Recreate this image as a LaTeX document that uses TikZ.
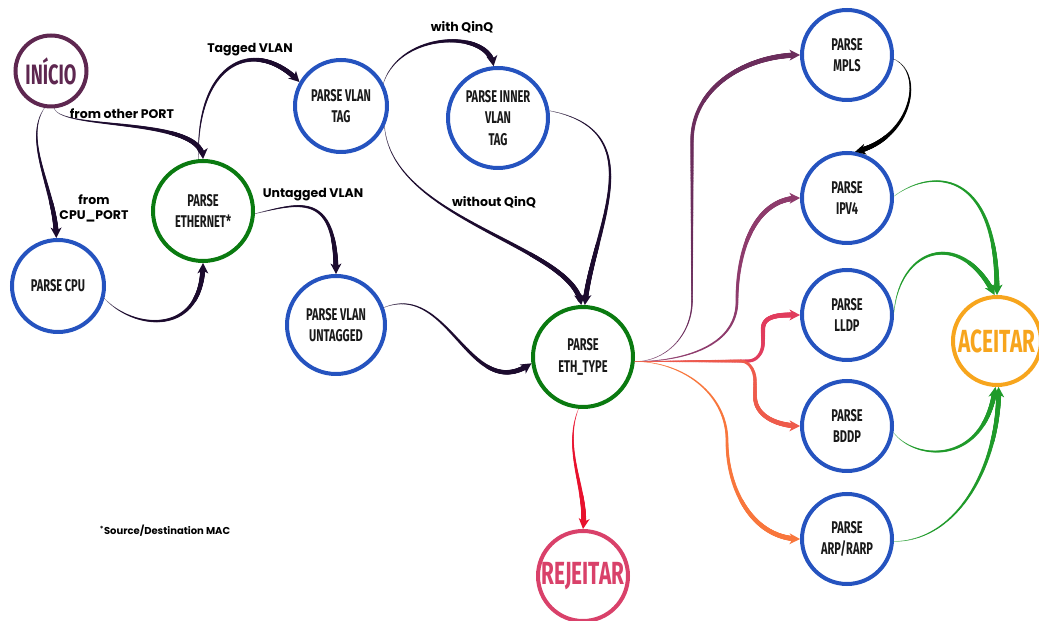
\documentclass[tikz,border=0pt]{standalone}
\usepackage{fontspec}
\usepackage{xcolor}
\usetikzlibrary{arrows.meta, decorations.markings}
\newfontfamily\statefont[FakeStretch=0.65]{Fira Sans}
\newfontfamily\labelfont{Poppins}
\definecolor{stateblue}{HTML}{2553BF}
\definecolor{stategreen}{HTML}{0A7A10}
\definecolor{startpurple}{HTML}{5E2750}
\definecolor{rejectpink}{HTML}{D9416A}
\definecolor{acceptorange}{HTML}{F7A51D}
\definecolor{flowdark}{HTML}{1C0B2E}
\definecolor{flowplum}{HTML}{6B2D5C}
\definecolor{flowmauve}{HTML}{8E3B6C}
\definecolor{flowrose}{HTML}{E13C5D}
\definecolor{flowcoral}{HTML}{EE5B4B}
\definecolor{floworange}{HTML}{F8763C}
\definecolor{flowred}{HTML}{E8112D}
\definecolor{flowgreen}{HTML}{1F9A2A}

\begin{document}
\begin{tikzpicture}[x=1pt, y=1pt]
\tikzstyle{state} = [circle, draw=stateblue, line width=4pt, minimum size=92pt, inner sep=0pt, align=center, text=black!90, font=\statefont\bfseries\fontsize{17}{21.5}\selectfont]
\tikzstyle{final} = [state, font=\statefont\bfseries\fontsize{32}{36}\selectfont]
\tikzstyle{lbl} = [align=center, inner sep=1pt, font=\labelfont\bfseries\fontsize{12.5}{15}\selectfont]
\tikzset{flow/.style={
  postaction={decorate, decoration={markings,
    mark=between positions 0 and -8pt step 0.6pt with {\fill[#1] (0,0) circle [radius={0.25+2.4*\pgfkeysvalueof{/pgf/decoration/mark info/distance from start}/\pgfdecoratedpathlength}];}}},
  postaction={decorate, decoration={markings,
    mark=at position -1.5pt with {\fill[#1] (1.5,0) -- (-9,5.5) -- (-6,0) -- (-9,-5.5) -- cycle;}}}}}
\useasboundingbox (0,0) rectangle (1039,621);

\node (inicio) [final, draw=startpurple, text=startpurple, minimum size=71pt, font=\statefont\bfseries\fontsize{28}{32}\selectfont] at (51,550) {INÍCIO};
\node (cpu) [state] at (58,335) {PARSE CPU};
\node (ether) [state, draw=stategreen, minimum size=100pt] at (203,410) {PARSE\\ETHERNET*};
\node (vtag) [state] at (341,515) {PARSE VLAN\\TAG};
\node (vuntag) [state, minimum size=98pt] at (336,296) {PARSE VLAN\\UNTAGGED};
\node (inner) [state, minimum size=100pt] at (498,503) {PARSE INNER\\VLAN\\TAG};
\node (ethtype) [state, draw=stategreen, minimum size=100pt] at (583,264) {PARSE\\ETH\_TYPE};
\node (rej) [final, draw=rejectpink, text=rejectpink, minimum size=90pt] at (583,45) {REJEITAR};
\node (mpls) [state, minimum size=90pt] at (847,566) {PARSE\\MPLS};
\node (ipv4) [state, minimum size=90pt] at (847,423) {PARSE\\IPV4};
\node (lldp) [state, minimum size=90pt] at (847,306) {PARSE\\LLDP};
\node (bddp) [state, minimum size=90pt] at (847,195) {PARSE\\BDDP};
\node (arp) [state, minimum size=90pt] at (847,82) {PARSE\\ARP/RARP};
\node (aceitar) [final, draw=acceptorange, text=acceptorange, minimum size=88pt] at (997,280) {ACEITAR};

\node (lbltagged) [lbl] at (250,571) {Tagged VLAN};
\node (lblother) [lbl] at (122,507) {from other PORT};
\node (lblcpu) [lbl] at (94,413) {from\\CPU\_PORT};
\node (lbluntagged) [lbl] at (313,426) {Untagged VLAN};
\node (lblwith) [lbl] at (462,594) {with QinQ};
\node (lblwithout) [lbl] at (494,419) {without QinQ};
\node (lblmac) [lbl, font=\labelfont\bfseries\fontsize{10}{12}\selectfont] at (165,90) {\textsuperscript{*}Source/Destination MAC};

\path[flow=flowdark] (inicio.-100) .. controls (22,480) and (56,430) .. (cpu.92);
\path[flow=flowdark] (inicio.-85) .. controls (62,490) and (203,505) .. (ether.90);
\path[flow=flowdark] (cpu.-15) .. controls (135,290) and (203,285) .. (ether.-90);
\path[flow=flowdark] (ether.95) .. controls (196,560) and (255,585) .. (vtag.150);
\path[flow=flowdark] (ether.-3) .. controls (300,418) and (336,430) .. (vuntag.90);
\path[flow=flowdark] (vtag.28) .. controls (400,590) and (490,592) .. (inner.95);
\path[flow=flowdark] (vtag.-25) .. controls (392,400) and (575,375) .. (ethtype.92);
\path[flow=flowdark] (inner.8) .. controls (655,490) and (592,390) .. (ethtype.88);
\path[flow=flowdark] (vuntag.20) .. controls (450,340) and (470,215) .. (ethtype.187);
\path[flow=flowred] (ethtype.-95) .. controls (562,170) and (588,130) .. (rej.90);

\path[flow=flowplum] (ethtype.-5) to[out=0,in=-90] (692,320) -- (692,480) to[out=90,in=180] (mpls.west);
\path[flow=flowmauve] (ethtype.-5) to[out=0,in=-90] (737,320) to[out=90,in=180] (ipv4.west);
\path[flow=flowrose] (ethtype.-5) -- (748,260) to[out=0,in=-90] (763,278) -- (763,292) to[out=90,in=180] (lldp.west);
\path[flow=flowcoral] (ethtype.-5) -- (740,260) to[out=0,in=90] (755,240) -- (755,225) to[out=-90,in=180] (bddp.west);
\path[flow=floworange] (ethtype.-5) to[out=0,in=90] (727,180) to[out=-90,in=180] (arp.west);

\path[flow=black] (mpls.-5) .. controls (925,548) and (912,482) .. (ipv4.80);
\path[flow=flowgreen] (ipv4.2) .. controls (930,452) and (998,455) .. (aceitar.90);
\path[flow=flowgreen] (lldp.3) .. controls (900,375) and (962,392) .. (aceitar.93);
\path[flow=flowgreen] (bddp.-8) .. controls (915,160) and (985,155) .. (aceitar.-92);
\path[flow=flowgreen] (arp.-3) .. controls (960,80) and (1000,160) .. (aceitar.-88);
\end{tikzpicture}
\end{document}
